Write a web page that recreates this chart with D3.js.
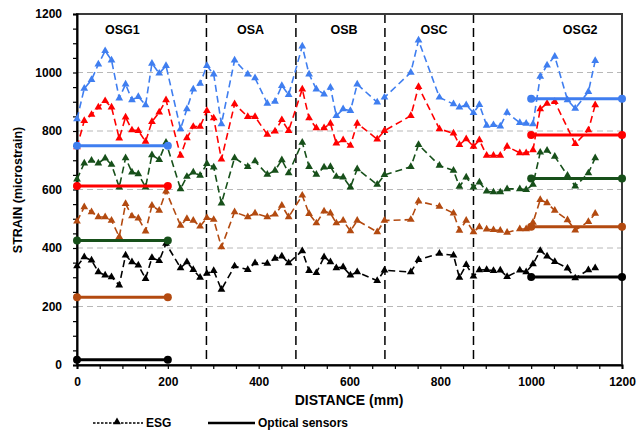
<!DOCTYPE html>
<html><head><meta charset="utf-8">
<script src="https://cdn.jsdelivr.net/npm/d3@7"></script>
<style>body{margin:0;background:#fff}svg{display:block;font-family:Arial,"Liberation Sans",sans-serif}</style>
</head><body><svg id="c" width="639" height="437"></svg>
<script>
// ESG gauge positions (mm)
const positions = [0,16,32,47,62,76,93,107,121,135,151,165,181,196,
  228,242,256,271,286,301,318,347,376,392,419,436,451,466,
  496,511,527,544,558,571,586,602,617,661,677,
  735,752,798,829,842,857,873,
  886,902,917,932,947,975,989,1004,1020,1035,1052,1080,1097,1126,1141];
const blueESG = [841,945,975,1028,1074,1042,912,960,906,917,889,1031,997,1023,
  807,875,943,962,1023,994,824,1042,994,981,894,901,955,924,
  1090,994,943,926,949,852,875,869,960,898,915,
  1000,1110,915,892,881,889,862,
  890,819,821,816,863,828,826,824,986,1025,1055,906,877,934,1040];
const redESG = [745,835,856,881,903,881,775,847,803,801,764,832,864,906,
  716,776,815,815,869,844,703,892,849,849,788,799,838,801,
  943,844,810,810,826,758,769,750,826,772,801,
  852,951,807,792,753,773,747,
  769,716,716,716,747,725,725,735,875,894,900,null,756,803,889];
const greenESG = [635,690,699,690,707,685,608,708,659,653,608,718,702,761,
  602,644,659,648,688,676,553,708,678,697,651,665,701,656,
  761,678,651,676,678,644,642,608,670,617,650,
  678,753,682,665,610,642,608,
  625,594,591,591,602,602,599,617,727,733,713,648,611,656,708];
const brownESG = [491,540,523,506,506,494,438,551,509,502,457,545,528,594,
  477,500,494,474,503,497,403,523,506,519,506,515,545,506,
  580,517,485,526,519,485,494,458,494,455,494,
  497,560,542,519,460,494,455,
  472,464,462,460,453,465,465,487,565,554,528,496,461,490,518];
const blackESG = [338,369,358,318,307,301,273,375,352,341,295,367,356,415,
  332,352,326,299,313,322,258,338,326,349,347,364,372,349,
  390,322,315,369,352,332,335,307,318,288,324,
  318,360,381,375,299,343,303,
  325,326,322,324,302,324,318,345,391,372,353,331,297,325,332];
const opticalOSG1 = [750,612,426,232,18];   // 0 - 200 mm
const opticalOSG2 = [910,786,638,473,301];  // 1000 - 1200 mm
const osg1Range = [0,200];
const osg2Range = [1000,1200];
const seriesColors = ["#3f7ef0","#ff0000","#17501a","#b34a10","#000000"];
const sectionBounds = [285,482,678,873];
const sectionLabels = ["OSG1","OSA","OSB","OSC","OSG2"];
const sectionLabelX = [100,382,588,786,1108];
const yTicks = [0,200,400,600,800,1000,1200];
const xTicks = [0,200,400,600,800,1000,1200];
const gridValues = [200,400,600,800,1000];

const svg = d3.select("#c");
const x = d3.scaleLinear().domain([0,1200]).range([77,622]);
const y = d3.scaleLinear().domain([0,1200]).range([365,14]);

// grid
svg.append("g").selectAll("line").data(gridValues).join("line")
  .attr("x1",x(0)).attr("x2",x(1200)).attr("y1",d=>y(d)).attr("y2",d=>y(d))
  .attr("stroke","#b8b8b8").attr("stroke-width",1).attr("stroke-dasharray","6,4");

// section dividers
svg.append("g").selectAll("line").data(sectionBounds).join("line")
  .attr("x1",d=>x(d)).attr("x2",d=>x(d)).attr("y1",y(1200)).attr("y2",y(0))
  .attr("stroke","#000").attr("stroke-width",1.5).attr("stroke-dasharray","9,5");

// frame
svg.append("rect").attr("x",x(0)).attr("y",y(1200)).attr("width",x(1200)-x(0)).attr("height",y(0)-y(1200))
  .attr("fill","none").attr("stroke","#3a3a3a").attr("stroke-width",2);

// axes
const yAxis = d3.axisLeft(y).tickValues(d3.range(0,1201,50)).tickSize(4).tickPadding(11)
  .tickFormat(d=> yTicks.includes(d) ? d : "");
const gy = svg.append("g").attr("transform",`translate(${x(0)},0)`).call(yAxis);
const xAxis = d3.axisBottom(x).tickValues(d3.range(0,1201,50)).tickSize(4).tickPadding(8)
  .tickFormat(d=> xTicks.includes(d) ? d : "");
const gx = svg.append("g").attr("transform",`translate(0,${y(0)})`).call(xAxis);
[gx,gy].forEach(g=>{
  g.select(".domain").attr("stroke","#000").attr("stroke-width",2);
  g.selectAll(".tick line").attr("stroke","#000").attr("stroke-width",1.2);
  g.selectAll("text").attr("font-size",12).attr("font-weight","bold").attr("fill","#000");
});

// section labels
svg.append("g").selectAll("text").data(sectionLabels).join("text")
  .attr("x",(d,i)=>x(sectionLabelX[i])).attr("y",34).attr("text-anchor","middle")
  .attr("font-size",12.5).attr("font-weight","bold").text(d=>d);

// ESG series
const esg = [blueESG,redESG,greenESG,brownESG,blackESG];
const line = d3.line().defined(d=>d[1]!=null).x(d=>x(d[0])).y(d=>y(d[1]));
const tri = d3.symbol().type(d3.symbolTriangle).size(26);
esg.forEach((vals,i)=>{
  const pts = positions.map((p,j)=>[p,vals[j]]).filter(d=>d[1]!=null);
  svg.append("path").datum(pts).attr("d",line).attr("fill","none")
    .attr("stroke",seriesColors[i]).attr("stroke-width",1.6).attr("stroke-dasharray","7,4");
  svg.append("g").selectAll("path").data(pts).join("path")
    .attr("d",tri).attr("transform",d=>`translate(${x(d[0])},${y(d[1])})`)
    .attr("fill",seriesColors[i]);
});

// optical sensors
[[opticalOSG1,osg1Range],[opticalOSG2,osg2Range]].forEach(([vals,rng])=>{
  vals.forEach((v,i)=>{
    svg.append("line").attr("x1",x(rng[0])).attr("x2",x(rng[1])).attr("y1",y(v)).attr("y2",y(v))
      .attr("stroke",seriesColors[i]).attr("stroke-width",3);
    svg.append("g").selectAll("circle").data(rng).join("circle")
      .attr("cx",d=>x(d)).attr("cy",y(v)).attr("r",4).attr("fill",seriesColors[i]);
  });
});

// axis titles
svg.append("text").attr("x",349).attr("y",405).attr("text-anchor","middle")
  .attr("font-size",14).attr("font-weight","bold").text("DISTANCE (mm)");
svg.append("text").attr("transform","translate(22,190) rotate(-90)").attr("text-anchor","middle")
  .attr("font-size",12.5).attr("font-weight","bold").text("STRAIN (microstrain)");

// legend
const lg = svg.append("g");
lg.append("line").attr("x1",93).attr("x2",143).attr("y1",423).attr("y2",423)
  .attr("stroke","#000").attr("stroke-width",1.3).attr("stroke-dasharray","2.5,1.5");
lg.append("path").attr("d",tri).attr("transform","translate(117,422)").attr("fill","#000");
lg.append("text").attr("x",146).attr("y",427).attr("font-size",12).attr("font-weight","bold").text("ESG");
lg.append("line").attr("x1",208).attr("x2",255).attr("y1",423).attr("y2",423)
  .attr("stroke","#000").attr("stroke-width",2.5);
lg.append("text").attr("x",258).attr("y",427).attr("font-size",12).attr("font-weight","bold").text("Optical sensors");
</script></body></html>
